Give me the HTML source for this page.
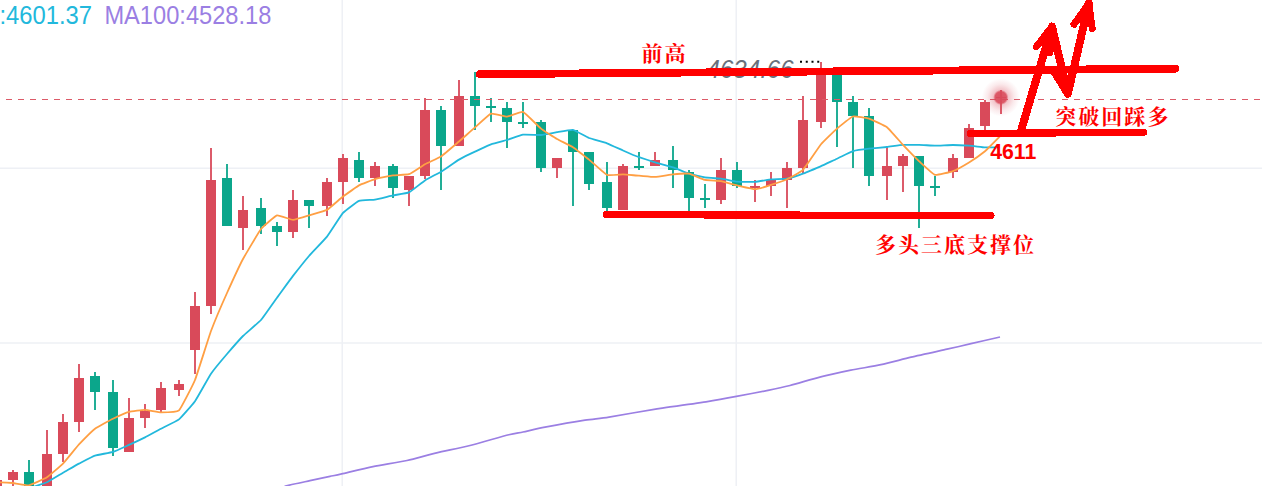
<!DOCTYPE html>
<html><head><meta charset="utf-8"><title>chart</title>
<style>
html,body{margin:0;padding:0;background:#fff;}
body{width:1262px;height:486px;overflow:hidden;font-family:"Liberation Sans",sans-serif;}
svg{display:block;}
text{font-family:"Liberation Sans",sans-serif;}
text.cjk{font-family:"Liberation Serif","Noto Serif CJK SC",serif;}
</style></head><body>
<svg width="1262" height="486" viewBox="0 0 1262 486">
<defs>
<radialGradient id="glow" cx="50%" cy="50%" r="50%">
<stop offset="0" stop-color="#d94a5a" stop-opacity="0.95"/>
<stop offset="0.30" stop-color="#d94a5a" stop-opacity="0.92"/>
<stop offset="0.40" stop-color="#d94a5a" stop-opacity="0.32"/>
<stop offset="0.7" stop-color="#d94a5a" stop-opacity="0.12"/>
<stop offset="1" stop-color="#d94a5a" stop-opacity="0"/>
</radialGradient>
</defs>
<rect width="1262" height="486" fill="#fff"/>

<g stroke="#eef0f5" stroke-width="1.5" fill="none">
<line x1="0" y1="168.2" x2="1262" y2="168.2"/>
<line x1="0" y1="343.1" x2="1262" y2="343.1"/>
<line x1="342.2" y1="0" x2="342.2" y2="486"/>
<line x1="736.2" y1="0" x2="736.2" y2="486"/>
</g>
<text id="h1" x="-0.6" y="23.9" font-size="25.2" fill="#22b8dc" textLength="92.6" lengthAdjust="spacingAndGlyphs">:4601.37</text>
<text id="h2" x="104.4" y="23.9" font-size="25.2" fill="#9b7fe3" textLength="167" lengthAdjust="spacingAndGlyphs">MA100:4528.18</text>
<path d="M284 487C284.4 486.8 284.4 486.4 287.5 485.6C290.6 484.8 304.9 481.8 310 480.7C315.1 479.6 326.2 477.2 330 476.4C333.8 475.6 336.5 475.1 341.7 473.9C346.9 472.7 365.2 468.2 373 466.6C380.8 465.0 399.4 462.2 407 460.5C414.6 458.8 429.0 454.6 436.6 452.8C444.2 451.0 461.3 447.7 470 445.5C478.7 443.3 502.4 436.3 508.8 434.7C515.2 433.1 518.7 432.9 523 432C527.3 431.1 537.6 428.6 545 427.2C552.4 425.8 577.3 421.4 585 420.2C592.7 419.0 600.4 418.5 609 417.1C617.6 415.7 649.7 410.0 657 408.8C664.3 407.6 664.1 407.7 670 406.9C675.9 406.1 698.0 403.1 706 401.8C714.0 400.5 729.0 397.8 736.4 396.4C743.8 395.0 761.6 391.7 768 390.4C774.4 389.1 783.7 387.1 790 385.5C796.3 383.9 813.4 378.6 820.7 376.8C828.0 375.0 843.6 371.7 850.8 370.2C858.0 368.7 873.7 366.3 880.9 364.7C888.1 363.1 903.1 359.1 911 357.2C918.9 355.3 939.8 350.8 947 349.2C954.2 347.6 964.6 345.2 971 343.7C977.4 342.2 996.5 337.8 1000 337" fill="none" stroke="#9b7fe3" stroke-width="1.7" stroke-linejoin="round"/>
<g>
<rect x="-3.9" y="480" width="1.8" height="10" fill="#d94a5a"/>
<rect x="-8.0" y="480" width="10" height="10" fill="#d94a5a"/>
<rect x="12.1" y="470" width="1.8" height="20" fill="#d94a5a"/>
<rect x="8.0" y="472" width="10" height="8" fill="#d94a5a"/>
<rect x="28.1" y="460" width="1.8" height="30" fill="#0ba68b"/>
<rect x="24.0" y="472" width="10" height="18" fill="#0ba68b"/>
<rect x="46.1" y="430" width="1.8" height="60" fill="#d94a5a"/>
<rect x="42.0" y="454" width="10" height="36" fill="#d94a5a"/>
<rect x="62.1" y="414" width="1.8" height="48" fill="#d94a5a"/>
<rect x="58.0" y="422" width="10" height="32" fill="#d94a5a"/>
<rect x="78.1" y="364" width="1.8" height="68" fill="#d94a5a"/>
<rect x="74.0" y="378" width="10" height="44" fill="#d94a5a"/>
<rect x="94.1" y="372" width="1.8" height="38" fill="#0ba68b"/>
<rect x="90.0" y="376" width="10" height="16" fill="#0ba68b"/>
<rect x="112.1" y="380" width="1.8" height="76" fill="#0ba68b"/>
<rect x="108.0" y="392" width="10" height="56" fill="#0ba68b"/>
<rect x="128.1" y="398" width="1.8" height="54" fill="#d94a5a"/>
<rect x="124.0" y="418" width="10" height="34" fill="#d94a5a"/>
<rect x="144.1" y="404" width="1.8" height="24" fill="#d94a5a"/>
<rect x="140.0" y="411" width="10" height="7" fill="#d94a5a"/>
<rect x="160.1" y="382" width="1.8" height="31" fill="#d94a5a"/>
<rect x="156.0" y="388" width="10" height="22" fill="#d94a5a"/>
<rect x="178.1" y="380" width="1.8" height="16" fill="#d94a5a"/>
<rect x="174.0" y="384" width="10" height="6" fill="#d94a5a"/>
<rect x="194.1" y="292" width="1.8" height="82" fill="#d94a5a"/>
<rect x="190.0" y="306" width="10" height="44" fill="#d94a5a"/>
<rect x="210.1" y="148" width="1.8" height="166" fill="#d94a5a"/>
<rect x="206.0" y="180" width="10" height="126" fill="#d94a5a"/>
<rect x="226.1" y="164" width="1.8" height="62" fill="#0ba68b"/>
<rect x="222.0" y="178" width="10" height="48" fill="#0ba68b"/>
<rect x="242.1" y="196" width="1.8" height="54" fill="#d94a5a"/>
<rect x="238.0" y="210" width="10" height="18" fill="#d94a5a"/>
<rect x="260.1" y="198" width="1.8" height="36" fill="#0ba68b"/>
<rect x="256.0" y="208" width="10" height="18" fill="#0ba68b"/>
<rect x="276.1" y="222" width="1.8" height="24" fill="#0ba68b"/>
<rect x="272.0" y="226" width="10" height="6" fill="#0ba68b"/>
<rect x="292.1" y="190" width="1.8" height="48" fill="#d94a5a"/>
<rect x="288.0" y="200" width="10" height="32" fill="#d94a5a"/>
<rect x="308.1" y="200" width="1.8" height="28" fill="#0ba68b"/>
<rect x="304.0" y="200" width="10" height="6" fill="#0ba68b"/>
<rect x="326.1" y="178" width="1.8" height="38" fill="#d94a5a"/>
<rect x="322.0" y="182" width="10" height="24" fill="#d94a5a"/>
<rect x="342.1" y="154" width="1.8" height="50" fill="#d94a5a"/>
<rect x="338.0" y="158" width="10" height="24" fill="#d94a5a"/>
<rect x="358.1" y="152" width="1.8" height="30" fill="#0ba68b"/>
<rect x="354.0" y="160" width="10" height="18" fill="#0ba68b"/>
<rect x="374.1" y="162" width="1.8" height="24" fill="#d94a5a"/>
<rect x="370.0" y="166" width="10" height="12" fill="#d94a5a"/>
<rect x="392.1" y="164" width="1.8" height="34" fill="#0ba68b"/>
<rect x="388.0" y="166" width="10" height="22" fill="#0ba68b"/>
<rect x="408.1" y="176" width="1.8" height="30" fill="#d94a5a"/>
<rect x="404.0" y="176" width="10" height="14" fill="#d94a5a"/>
<rect x="424.1" y="98" width="1.8" height="81" fill="#d94a5a"/>
<rect x="420.0" y="110" width="10" height="66" fill="#d94a5a"/>
<rect x="440.1" y="106" width="1.8" height="84" fill="#0ba68b"/>
<rect x="436.0" y="110" width="10" height="36" fill="#0ba68b"/>
<rect x="458.1" y="80" width="1.8" height="66" fill="#d94a5a"/>
<rect x="454.0" y="96" width="10" height="50" fill="#d94a5a"/>
<rect x="474.1" y="72" width="1.8" height="58" fill="#0ba68b"/>
<rect x="470.0" y="96" width="10" height="10" fill="#0ba68b"/>
<rect x="490.1" y="98" width="1.8" height="24" fill="#0ba68b"/>
<rect x="486.0" y="106" width="10" height="2" fill="#0ba68b"/>
<rect x="506.1" y="102" width="1.8" height="46" fill="#0ba68b"/>
<rect x="502.0" y="108" width="10" height="14" fill="#0ba68b"/>
<rect x="522.1" y="102" width="1.8" height="26" fill="#0ba68b"/>
<rect x="518.0" y="122" width="10" height="2" fill="#0ba68b"/>
<rect x="540.1" y="120" width="1.8" height="52" fill="#0ba68b"/>
<rect x="536.0" y="122" width="10" height="46" fill="#0ba68b"/>
<rect x="556.1" y="158" width="1.8" height="20" fill="#d94a5a"/>
<rect x="552.0" y="158" width="10" height="10" fill="#d94a5a"/>
<rect x="572.1" y="130" width="1.8" height="76" fill="#0ba68b"/>
<rect x="568.0" y="130" width="10" height="22" fill="#0ba68b"/>
<rect x="588.1" y="152" width="1.8" height="38" fill="#0ba68b"/>
<rect x="584.0" y="152" width="10" height="32" fill="#0ba68b"/>
<rect x="606.1" y="162" width="1.8" height="49" fill="#0ba68b"/>
<rect x="602.0" y="182" width="10" height="26" fill="#0ba68b"/>
<rect x="622.1" y="164" width="1.8" height="46" fill="#d94a5a"/>
<rect x="618.0" y="166" width="10" height="44" fill="#d94a5a"/>
<rect x="638.1" y="152" width="1.8" height="18" fill="#0ba68b"/>
<rect x="634.0" y="166" width="10" height="2" fill="#0ba68b"/>
<rect x="654.1" y="152" width="1.8" height="14" fill="#d94a5a"/>
<rect x="650.0" y="160" width="10" height="6" fill="#d94a5a"/>
<rect x="672.1" y="146" width="1.8" height="42" fill="#0ba68b"/>
<rect x="668.0" y="160" width="10" height="10" fill="#0ba68b"/>
<rect x="688.1" y="170" width="1.8" height="41" fill="#0ba68b"/>
<rect x="684.0" y="172" width="10" height="26" fill="#0ba68b"/>
<rect x="704.1" y="184" width="1.8" height="24" fill="#0ba68b"/>
<rect x="700.0" y="198" width="10" height="2" fill="#0ba68b"/>
<rect x="720.1" y="158" width="1.8" height="46" fill="#d94a5a"/>
<rect x="716.0" y="170" width="10" height="30" fill="#d94a5a"/>
<rect x="736.1" y="162" width="1.8" height="26" fill="#0ba68b"/>
<rect x="732.0" y="170" width="10" height="16" fill="#0ba68b"/>
<rect x="754.1" y="180" width="1.8" height="22" fill="#d94a5a"/>
<rect x="750.0" y="186" width="10" height="2" fill="#d94a5a"/>
<rect x="770.1" y="172" width="1.8" height="24" fill="#d94a5a"/>
<rect x="766.0" y="180" width="10" height="6" fill="#d94a5a"/>
<rect x="786.1" y="162" width="1.8" height="46" fill="#d94a5a"/>
<rect x="782.0" y="168" width="10" height="12" fill="#d94a5a"/>
<rect x="802.1" y="96" width="1.8" height="78" fill="#d94a5a"/>
<rect x="798.0" y="120" width="10" height="48" fill="#d94a5a"/>
<rect x="820.1" y="62" width="1.8" height="66" fill="#d94a5a"/>
<rect x="816.0" y="70" width="10" height="52" fill="#d94a5a"/>
<rect x="836.1" y="70" width="1.8" height="77" fill="#0ba68b"/>
<rect x="832.0" y="72" width="10" height="30" fill="#0ba68b"/>
<rect x="852.1" y="96" width="1.8" height="72" fill="#0ba68b"/>
<rect x="848.0" y="102" width="10" height="14" fill="#0ba68b"/>
<rect x="868.1" y="108" width="1.8" height="78" fill="#0ba68b"/>
<rect x="864.0" y="116" width="10" height="60" fill="#0ba68b"/>
<rect x="886.1" y="146" width="1.8" height="54" fill="#d94a5a"/>
<rect x="882.0" y="166" width="10" height="10" fill="#d94a5a"/>
<rect x="902.1" y="154" width="1.8" height="38" fill="#d94a5a"/>
<rect x="898.0" y="156" width="10" height="10" fill="#d94a5a"/>
<rect x="918.1" y="156" width="1.8" height="72" fill="#0ba68b"/>
<rect x="914.0" y="156" width="10" height="30" fill="#0ba68b"/>
<rect x="934.1" y="176" width="1.8" height="20" fill="#0ba68b"/>
<rect x="930.0" y="186" width="10" height="2" fill="#0ba68b"/>
<rect x="952.1" y="154" width="1.8" height="24" fill="#d94a5a"/>
<rect x="948.0" y="158" width="10" height="14" fill="#d94a5a"/>
<rect x="968.1" y="124" width="1.8" height="34" fill="#d94a5a"/>
<rect x="964.0" y="128" width="10" height="30" fill="#d94a5a"/>
<rect x="984.1" y="100" width="1.8" height="30" fill="#d94a5a"/>
<rect x="980.0" y="102" width="10" height="24" fill="#d94a5a"/>
<rect x="1000.1" y="90" width="1.8" height="24" fill="#d94a5a"/>
<rect x="996.0" y="97" width="10" height="1" fill="#d94a5a"/>
</g>
<path d="M33 487C33.8 486.7 45.4 483.1 47 482.3C48.6 481.5 61.2 473.8 63 472.8C64.8 471.8 77.2 464.5 79 463.6C80.8 462.7 93.1 456.2 95 455.6C96.9 455.0 111.1 452.5 113 451.9C114.9 451.3 127.2 445.7 129 444.9C130.8 444.1 143.2 438.3 145 437.4C146.8 436.5 159.1 429.7 161 428.7C162.9 427.7 177.1 420.9 179 419.4C180.9 417.9 193.2 403.7 195 401.2C196.8 398.7 209.2 376.3 211 373.7C212.8 371.1 225.2 356.1 227 354C228.8 351.9 241.1 337.9 243 336C244.9 334.1 259.1 322.1 261 320C262.9 317.9 275.2 300.1 277 297.7C278.8 295.3 291.2 278.2 293 275.9C294.8 273.6 307.1 258.2 309 256C310.9 253.8 325.1 239.0 327 236.6C328.9 234.2 341.2 214.9 343 212.9C344.8 210.9 357.2 201.6 359 200.9C360.8 200.2 373.1 199.9 375 199.6C376.9 199.3 391.1 195.8 393 195.4C394.9 195.0 407.2 193.2 409 192.4C410.8 191.6 423.2 181.5 425 180.4C426.8 179.3 439.1 172.8 441 171.7C442.9 170.6 457.1 160.7 459 159.6C460.9 158.5 473.2 152.4 475 151.6C476.8 150.8 489.2 144.9 491 144.3C492.8 143.7 505.2 140.5 507 140C508.8 139.5 521.1 135.0 523 134.7C524.9 134.4 539.1 135.1 541 135C542.9 134.9 555.2 132.5 557 132.2C558.8 131.9 571.2 129.6 573 129.9C574.8 130.2 587.1 137.3 589 138C590.9 138.7 605.1 142.6 607 143.3C608.9 144.0 621.2 149.7 623 150.5C624.8 151.3 637.2 156.6 639 157.2C640.8 157.8 653.1 161.7 655 162.3C656.9 162.9 671.1 166.8 673 167.4C674.9 168.0 687.2 173.1 689 173.7C690.8 174.2 703.2 177.1 705 177.4C706.8 177.7 719.2 178.5 721 178.7C722.8 178.9 735.1 181.5 737 181.7C738.9 181.9 753.1 182.0 755 181.9C756.9 181.8 769.2 179.6 771 179.4C772.8 179.2 785.2 179.0 787 178.7C788.8 178.4 801.1 174.4 803 173.7C804.9 173.0 819.1 167.0 821 166.2C822.9 165.4 835.2 159.5 837 158.7C838.8 157.9 851.2 151.8 853 151.2C854.8 150.6 867.1 148.9 869 148.7C870.9 148.5 885.1 147.2 887 147C888.9 146.8 901.2 145.0 903 144.9C904.8 144.8 917.2 144.9 919 144.9C920.8 144.9 933.1 145.6 935 145.6C936.9 145.6 951.1 145.0 953 145C954.9 145.0 967.2 145.5 969 145.6C970.8 145.7 983.3 147.3 985 147.4C986.7 147.5 999.2 147.4 1000 147.4" fill="none" stroke="#22b8dc" stroke-width="1.8" stroke-linejoin="round"/>
<path d="M0 482.3C0.7 482.3 11.4 482.8 13 483C14.6 483.2 27.1 485.6 29 485.3C30.9 485.0 45.1 478.5 47 477.3C48.9 476.1 61.2 465.4 63 463.6C64.8 461.8 77.2 446.3 79 444.4C80.8 442.5 93.1 430.1 95 428.7C96.9 427.3 111.1 419.6 113 418.7C114.9 417.8 127.2 412.4 129 411.9C130.8 411.4 143.2 409.9 145 409.9C146.8 409.9 159.1 412.4 161 412.4C162.9 412.4 177.1 412.2 179 410.4C180.9 408.6 193.2 384.4 195 380C196.8 375.6 209.2 335.8 211 331C212.8 326.2 225.2 297.0 227 293C228.8 289.0 241.1 262.5 243 259C244.9 255.5 259.1 231.4 261 229C262.9 226.6 275.2 215.9 277 215.4C278.8 214.9 291.2 219.9 293 219.9C294.8 219.9 307.1 216.0 309 215.4C310.9 214.8 325.1 210.9 327 209.9C328.9 208.9 341.2 197.9 343 196.6C344.8 195.3 357.2 186.4 359 185.4C360.8 184.4 373.1 179.8 375 179.2C376.9 178.6 391.1 175.7 393 175.4C394.9 175.1 407.2 174.8 409 174.2C410.8 173.6 423.2 165.2 425 164.2C426.8 163.2 439.1 157.7 441 156.5C442.9 155.3 457.1 143.1 459 141.5C460.9 139.9 473.2 128.9 475 127.4C476.8 125.9 489.2 114.2 491 113.6C492.8 113.0 505.2 116.7 507 116.6C508.8 116.5 521.1 111.2 523 111.9C524.9 112.6 539.1 127.1 541 128.6C542.9 130.1 555.2 138.0 557 139C558.8 140.0 571.2 146.1 573 147.2C574.8 148.3 587.1 158.1 589 159.6C590.9 161.1 605.1 174.1 607 174.9C608.9 175.7 621.2 174.4 623 174.4C624.8 174.4 637.2 175.6 639 175.7C640.8 175.8 653.1 177.0 655 176.9C656.9 176.8 671.1 174.6 673 174.4C674.9 174.2 687.2 173.4 689 173.7C690.8 174.0 703.2 179.5 705 179.9C706.8 180.3 719.2 180.9 721 181.2C722.8 181.5 735.1 185.0 737 185.4C738.9 185.8 753.1 189.2 755 189.2C756.9 189.2 769.2 185.5 771 184.9C772.8 184.3 785.2 180.0 787 179.2C788.8 178.4 801.1 171.8 803 169.9C804.9 168.0 819.1 146.6 821 144.3C822.9 142.0 835.2 130.1 837 128.6C838.8 127.1 851.2 117.0 853 116.5C854.8 116.0 867.1 118.1 869 118.7C870.9 119.3 885.1 125.8 887 127.2C888.9 128.6 901.2 143.0 903 144.9C904.8 146.8 917.2 159.5 919 161.2C920.8 162.8 933.1 174.4 935 174.9C936.9 175.4 951.1 171.8 953 171.1C954.9 170.4 967.2 163.5 969 162.4C970.8 161.3 983.3 152.6 985 151.2C986.7 149.8 999.2 137.0 1000 136.2" fill="none" stroke="#ff9f43" stroke-width="1.8" stroke-linejoin="round"/>
<text id="h3" x="706.5" y="78.3" font-size="25.2" font-style="italic" fill="#69707c" textLength="87.2" lengthAdjust="spacingAndGlyphs">4634.66</text>
<line x1="800" y1="61.8" x2="820" y2="61.8" stroke="#000" stroke-width="2" stroke-dasharray="2 3.75"/>
<line x1="6" y1="99.5" x2="1262" y2="99.5" stroke="#dc5a68" stroke-width="1" stroke-dasharray="6 6"/>
<circle cx="1000.8" cy="97.4" r="19" fill="url(#glow)"/>
<g stroke="#ff0000" fill="none" stroke-linecap="round" stroke-linejoin="round" shape-rendering="crispEdges">
<line x1="479.8" y1="74.2" x2="1175.2" y2="68.7" stroke-width="7.8"/>
<line x1="606.4" y1="214.7" x2="991" y2="215.5" stroke-width="7.2"/>
<line x1="970.4" y1="133.4" x2="1143.5" y2="132.4" stroke-width="7.2"/>
<polyline points="1020.5,132.5 1052,26.5 1067.8,94 1088.8,3.5" stroke-width="8"/>
<line x1="1051.8" y1="69" x2="1067.3" y2="94.2" stroke-width="6.5"/>
<polyline points="1036.3,46.8 1052,26.5 1050,52.5" stroke-width="7"/>
<polyline points="1074,24.3 1088.8,3.5 1092.2,28.5" stroke-width="7"/>
</g>
<text id="t4611" x="990.2" y="158.8" font-size="22" font-weight="bold" fill="#ff0000" textLength="46.2" lengthAdjust="spacingAndGlyphs">4611</text>
<text id="c1" class="cjk" x="641.4" y="61.3" font-size="21" font-weight="bold" fill="#ff0000" letter-spacing="2.2">前高</text>
<text id="c2" class="cjk" x="1055.2" y="123.7" font-size="21" font-weight="bold" fill="#ff0000" letter-spacing="2.05">突破回踩多</text>
<text id="c3" class="cjk" x="875" y="252.4" font-size="21" font-weight="bold" fill="#ff0000" letter-spacing="2">多头三底支撑位</text>
</svg></body></html>
